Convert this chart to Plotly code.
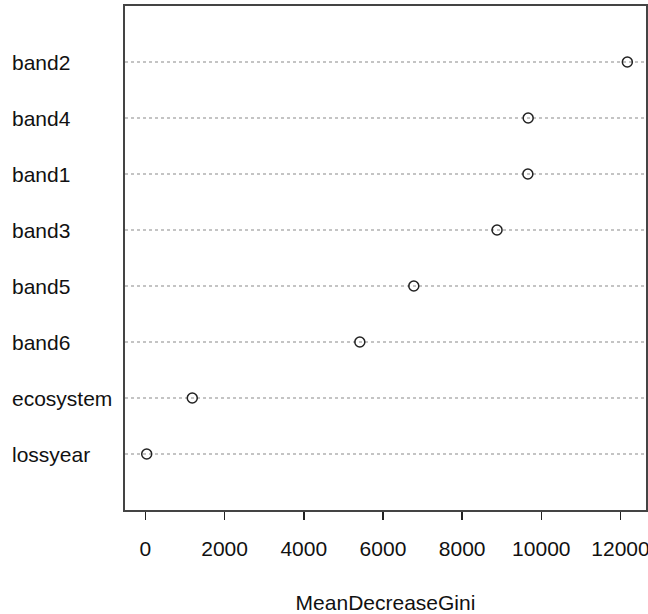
import plotly.graph_objects as go

variables = ["lossyear", "ecosystem", "band6", "band5", "band3", "band1", "band4", "band2"]
gini = [33, 1184, 5416, 6779, 8882, 9660, 9668, 12173]
x_ticks = [0, 2000, 4000, 6000, 8000, 10000, 12000]

positions = list(range(1, len(variables) + 1))

fig = go.Figure()
fig.add_trace(go.Scatter(
    x=gini, y=positions, mode="markers",
    marker=dict(symbol="circle-open", size=10, color="#222", line=dict(width=1.5, color="#222")),
    showlegend=False, hoverinfo="skip"))

W, H = 648, 614
L, R, T, B = 125, 2, 6, 104
pw = W - L - R

for name, p in zip(variables, positions):
    fig.add_annotation(x=-(L - 10) / pw, xref="paper", y=p, yref="y",
                       text=name, showarrow=False, xanchor="left", yanchor="middle",
                       font=dict(size=21, color="#111", family="Liberation Sans, Arial"))

fig.update_layout(
    width=W, height=H,
    margin=dict(l=L, r=R, t=T, b=B, autoexpand=False),
    paper_bgcolor="white", plot_bgcolor="white",
    font=dict(family="Liberation Sans, Arial", size=21, color="#111"),
    xaxis=dict(range=[-515, 12644], tickvals=x_ticks, ticktext=[str(v) for v in x_ticks],
               ticks="outside", ticklen=8, tickcolor="#222", tickwidth=1.5,
               showline=True, linecolor="#444", linewidth=1.8, mirror=True,
               showgrid=False, zeroline=False, ticklabelstandoff=11,
               ticklabeloverflow="allow", automargin=False,
               title=dict(text="MeanDecreaseGini", standoff=41, font=dict(size=21))),
    yaxis=dict(range=[0, 9], tickvals=positions, showticklabels=False,
               ticks="", showline=True, linecolor="#444", linewidth=1.8, mirror=True,
               showgrid=True, gridcolor="#c4c4c4", griddash="dot", gridwidth=1.2,
               zeroline=False, automargin=False),
)
fig.write_html("out.html",
               config={"displayModeBar": False, "staticPlot": True},
               post_script="document.body.style.margin='0';document.body.style.overflow='hidden';")
